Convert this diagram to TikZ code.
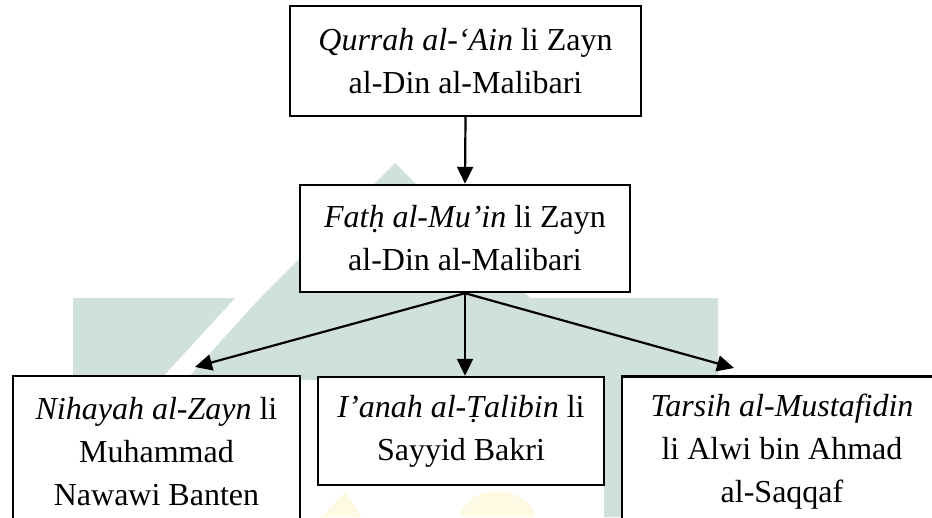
\documentclass[tikz,border=0pt]{standalone}
\usepackage{fontspec}
\setmainfont{Liberation Serif}
\usetikzlibrary{arrows.meta}
\definecolor{wmteal}{RGB}{208,225,217}
\definecolor{wmgold}{RGB}{253,249,226}
\begin{document}
\begin{tikzpicture}[x=1pt,y=-1pt,
	book/.style={draw,line width=2.4pt,fill=white,inner sep=0pt,align=center,
		font=\fontsize{32}{43}\selectfont},
	link/.style={line width=2.2pt,-{Triangle[length=17pt,width=16pt]}}]
	\useasboundingbox (0,0) rectangle (932,517);
	\clip (0,0) rectangle (932,517);
	% faint watermark behind the chart
	\fill[wmteal] (73,298) -- (235,298) -- (160,380) -- (73,380) -- cycle;
	\fill[wmteal] (260,298) -- (395,163) -- (530,298) -- (718,298) -- (718,517) -- (604,517) -- (604,380) -- (186,380) -- cycle;
	\fill[wmgold] (322,517) -- (345,492) -- (362,517) -- cycle;
	\fill[wmgold] (460,517) .. controls (462,500) and (480,492) .. (497,491) .. controls (514,492) and (532,500) .. (535,517) -- cycle;
	% the books
	\node[book,minimum width=351pt,minimum height=110pt] (qurrah) at (465.5,61)
		{\textit{Qurrah al-‘Ain} li Zayn\\al-Din al-Malibari};
	\node[book,minimum width=330pt,minimum height=107pt] (fath) at (465,238.5)
		{\textit{Fatḥ al-Mu’in} li Zayn\\al-Din al-Malibari};
	\node[book,minimum width=287pt,minimum height=151pt] (nihayah) at (156.5,451.5)
		{\textit{Nihayah al-Zayn} li\\Muhammad\\Nawawi Banten};
	\node[book,minimum width=286pt,minimum height=108pt] (ianah) at (461,431)
		{\textit{I’anah al-Ṭalibin} li\\Sayyid Bakri};
	\node[book,minimum width=320pt,minimum height=151pt] (tarsih) at (782,452)
		{\textit{Tarsih al-Mustafidin}\\li Alwi bin Ahmad\\al-Saqqaf};
	\coordinate (nihayahtip) at (195,367);
	\coordinate (tarsihtip) at (734,368);
	\draw[link] (qurrah.south) -- (fath.north);
	\draw[link] (fath.south) -- (nihayahtip);
	\draw[link] (fath.south) -- (fath.south |- ianah.north);
	\draw[link] (fath.south) -- (tarsihtip);
\end{tikzpicture}
\end{document}
